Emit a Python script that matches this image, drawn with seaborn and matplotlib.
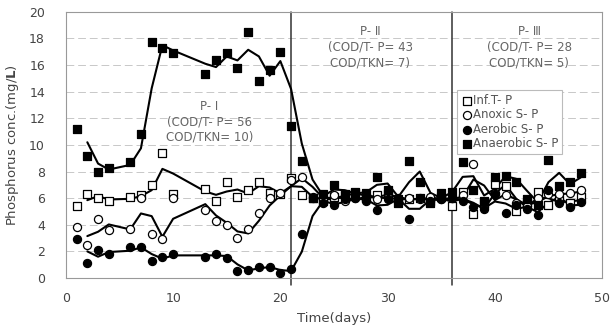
import matplotlib
matplotlib.use("Agg")
import matplotlib.pyplot as plt
import seaborn as sns
import pandas as pd

# sampling days (no samples on day 5, 11, 12)
days = [1, 2, 3, 4, 6, 7, 8, 9, 10,
        13, 14, 15, 16, 17, 18, 19, 20, 21, 22,
        23, 24, 25, 26, 27, 28, 29, 30, 31, 32,
        33, 34, 35, 36, 37, 38, 39, 40, 41, 42,
        43, 44, 45, 46, 47, 48]

inf_tp = [5.4, 6.3, 6.0, 5.8, 6.1, 6.2, 7.0, 9.4, 6.3,
          6.7, 5.8, 7.2, 6.1, 6.6, 7.2, 6.4, 6.3, 7.5, 6.2,
          6.0, 5.8, 6.1, 6.3, 6.4, 6.0, 6.2, 6.3, 5.9, 5.9,
          6.0, 5.8, 6.1, 5.4, 6.5, 4.8, 5.6, 7.1, 6.9, 5.0,
          5.6, 6.5, 5.5, 5.9, 5.6, 6.1]
anoxic_sp = [3.8, 2.5, 4.45, 3.6, 3.7, 6.0, 3.3, 2.9, 6.0,
             5.1, 4.3, 4.0, 3.0, 3.7, 4.9, 6.0, 6.4, 7.4, 7.6,
             6.1, 5.9, 6.2, 5.8, 6.0, 6.2, 5.9, 6.1, 5.8, 6.0,
             5.9, 6.1, 5.9, 6.0, 6.2, 8.6, 5.3, 6.4, 6.2, 5.6,
             5.4, 6.0, 6.3, 6.3, 6.4, 6.6]
aerobic_sp = [2.9, 1.1, 2.1, 1.8, 2.3, 2.3, 1.3, 1.6, 1.8,
              1.6, 1.8, 1.5, 0.55, 0.6, 0.85, 0.8, 0.4, 0.65, 3.3,
              6.0, 5.6, 5.5, 5.9, 6.0, 5.8, 5.1, 5.9, 6.0, 4.4,
              6.0, 5.8, 5.9, 6.0, 5.8, 5.3, 5.2, 6.3, 4.9, 5.5,
              5.2, 4.7, 6.6, 5.6, 5.3, 5.7]
anaerobic_sp = [11.2, 9.2, 8.0, 8.3, 8.7, 10.8, 17.7, 17.3, 16.9,
                15.3, 16.4, 16.9, 15.8, 18.5, 14.8, 15.6, 17.0, 11.4, 8.8,
                6.0, 6.3, 7.0, 6.2, 6.5, 6.4, 7.6, 6.6, 5.6, 8.8,
                7.2, 5.6, 6.4, 6.5, 8.7, 6.6, 5.8, 7.6, 7.7, 7.2,
                5.9, 5.5, 8.9, 6.9, 7.2, 7.9]

series_names = ["Inf.T- P", "Anoxic S- P", "Aerobic S- P", "Anaerobic S- P"]
phase_starts = [21, 36]
phase_labels = ["P- \u2160\n(COD/T- P= 56\nCOD/TKN= 10)",
                "P- \u2161\n(COD/T- P= 43\nCOD/TKN= 7)",
                "P- \u2162\n(COD/T- P= 28\nCOD/TKN= 5)"]
phase_label_pos = [(13.4, 13.4), (28.4, 19.0), (43.2, 19.0)]

df = pd.DataFrame({"day": days, series_names[0]: inf_tp, series_names[1]: anoxic_sp,
                   series_names[2]: aerobic_sp, series_names[3]: anaerobic_sp})
long = df.melt(id_vars="day", var_name="series", value_name="conc")

sns.set_style("white")
plt.rcParams["font.family"] = ["DejaVu Sans"]

fig = plt.figure(figsize=(6.1, 3.29), dpi=100)
ax = fig.add_axes([0.108, 0.155, 0.879, 0.809])

# marker, face colour, size
styles = {"Inf.T- P": ("s", "white", 34),
          "Anoxic S- P": ("o", "white", 34),
          "Aerobic S- P": ("o", "black", 34),
          "Anaerobic S- P": ("s", "black", 38)}

for name in series_names:
    mk, face, sz = styles[name]
    sub = long[long["series"] == name].sort_values("day")
    # 2-point moving average trend line
    trend = sub["conc"].rolling(2).mean()
    sns.lineplot(x=sub["day"], y=trend, color="black", linewidth=1.5, ax=ax, zorder=2)
    sns.scatterplot(x=sub["day"], y=sub["conc"], marker=mk, s=sz, color=face,
                    edgecolor="black", linewidth=0.9, ax=ax, label=name, zorder=3)

for d in phase_starts:
    ax.axvline(d, ymin=-0.025, ymax=1, color="#333333", linewidth=1.1, clip_on=False, zorder=1)

for txt, (x, y) in zip(phase_labels, phase_label_pos):
    ax.text(x, y, txt, ha="center", va="top", fontsize=8.5, color="#666666", linespacing=1.25)

ax.set_xlim(0, 50)
ax.set_ylim(0, 20)
ax.set_xticks([0, 10, 20, 30, 40, 50])
ax.set_yticks(range(0, 21, 2))
ax.tick_params(length=0, labelsize=9, labelcolor="#444444")
ax.tick_params(axis="y", pad=15)
ax.tick_params(axis="x", pad=10)
ax.yaxis.grid(True, color="#c8c8c8", linestyle=(0, (8, 4)), linewidth=0.7)
ax.xaxis.grid(False)
for sp in ax.spines.values():
    sp.set_color("#999999")
    sp.set_linewidth(0.8)

ax.set_xlabel("Time(days)", fontsize=9.5, color="#444444")
ax.set_ylabel(r"Phosphorus conc.(mg/$\mathbf{L}$)", fontsize=9.5, color="#444444")
ax.yaxis.set_label_coords(-0.083, 0.5)
ax.xaxis.set_label_coords(0.5, -0.128)

leg = ax.legend(loc="upper left", bbox_to_anchor=(0.73, 0.705), fontsize=8.5,
                frameon=True, fancybox=False, framealpha=1, edgecolor="#bbbbbb",
                handletextpad=0.0, borderpad=0.3, labelspacing=0.12, handlelength=1.0,
                borderaxespad=0)
leg.get_frame().set_linewidth(0.8)
for t in leg.get_texts():
    t.set_color("#555555")

fig.savefig("out.png", dpi=100)
